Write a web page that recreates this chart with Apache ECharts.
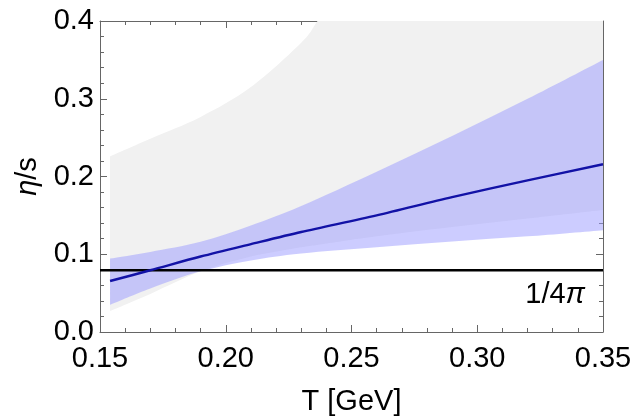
<!DOCTYPE html>
<html>
<head>
<meta charset="utf-8">
<script src="https://cdn.jsdelivr.net/npm/echarts@6/dist/echarts.min.js"></script>
<style>
html,body{margin:0;padding:0;background:#fff;}
#c{width:638px;height:418px;}
</style>
</head>
<body>
<div id="c"></div>
<script>
// ---- data ----
const xTicks = [0.15, 0.20, 0.25, 0.30, 0.35];
const yTicks = [0.0, 0.1, 0.2, 0.3, 0.4];

// gray band: upper edge leaves the frame near T = 0.237 (values above 0.4 are clipped)
const T_gray    = [0.154, 0.17, 0.19, 0.21, 0.23, 0.2365, 0.245, 0.26, 0.29, 0.32, 0.35];
const grayLower = [0.027, 0.049, 0.078, 0.097, 0.109, 0.112, 0.116, 0.123, 0.135, 0.146, 0.157];
const grayUpper = [0.226, 0.2487, 0.2766, 0.315, 0.372, 0.400, 0.44, 0.50, 0.60, 0.70, 0.80];

const T_blue    = [0.154, 0.17, 0.19, 0.21, 0.23, 0.26, 0.29, 0.32, 0.35];
const blueLower = [0.035, 0.056, 0.078, 0.092, 0.101, 0.109, 0.1165, 0.123, 0.131];
const blueUpper = [0.0944, 0.103, 0.116, 0.137, 0.162, 0.206, 0.252, 0.300, 0.350];
const center    = [0.0656, 0.0794, 0.097, 0.113, 0.1286, 0.150, 0.1735, 0.195, 0.2157];

const KSS = 1 / (4 * Math.PI);
const kssX = [0.15, 0.35];
const kssLabel = '1/4';

// ---- build ----
const pairs = (xs, ys) => xs.map((x, i) => [x, ys[i]]);
const rows = (xs, lo, hi) => xs.map((x, i) => [x, lo[i], hi[i]]);

const axisCol = '#666';
const fontFam = 'Liberation Sans, Arial, sans-serif';
const FS = 29;

function xAx(pos, labels) {
  return {
    type: 'value', position: pos, min: 0.15, max: 0.35, interval: 0.05,
    axisLine: {show: true, onZero: false, lineStyle: {color: axisCol, width: 1}},
    axisTick: {show: true, inside: true, length: 7, lineStyle: {color: axisCol}},
    minorTick: {show: true, splitNumber: 5, length: 4, lineStyle: {color: axisCol}},
    splitLine: {show: false}, minorSplitLine: {show: false},
    axisLabel: {show: labels, fontSize: FS, color: '#000', fontFamily: fontFam, margin: 12,
      formatter: v => v.toFixed(2)},
    name: labels ? 'T [GeV]' : '', nameLocation: 'middle', nameGap: 55,
    nameTextStyle: {fontSize: FS, color: '#000', fontFamily: fontFam}
  };
}
function yAx(pos, labels) {
  return {
    type: 'value', position: pos, min: 0, max: 0.4, interval: 0.1,
    axisLine: {show: true, onZero: false, lineStyle: {color: axisCol, width: 1}},
    axisTick: {show: true, inside: true, length: 7, lineStyle: {color: axisCol}},
    minorTick: {show: true, splitNumber: 5, length: 4, lineStyle: {color: axisCol}},
    splitLine: {show: false}, minorSplitLine: {show: false},
    axisLabel: {show: labels, fontSize: FS, color: '#000', fontFamily: fontFam, margin: 6,
      formatter: v => v.toFixed(1)},
    name: labels ? '{i|η}/s' : '', nameLocation: 'middle', nameGap: 58, nameRotate: 90,
    nameTextStyle: {fontSize: FS, color: '#000', fontFamily: fontFam,
      rich: {i: {fontStyle: 'italic', fontSize: FS, fontFamily: fontFam, color: '#000'}}}
  };
}

// smooth path (Catmull-Rom -> cubic Bezier) through pixel points
function splineSeg(pts, startWithMove) {
  let d = startWithMove ? 'M' + pts[0][0] + ' ' + pts[0][1] : 'L' + pts[0][0] + ' ' + pts[0][1];
  const n = pts.length;
  for (let i = 0; i < n - 1; i++) {
    const p0 = pts[Math.max(i - 1, 0)], p1 = pts[i], p2 = pts[i + 1], p3 = pts[Math.min(i + 2, n - 1)];
    const c1 = [p1[0] + (p2[0] - p0[0]) / 6, p1[1] + (p2[1] - p0[1]) / 6];
    const c2 = [p2[0] - (p3[0] - p1[0]) / 6, p2[1] - (p3[1] - p1[1]) / 6];
    d += ' C' + c1[0] + ' ' + c1[1] + ' ' + c2[0] + ' ' + c2[1] + ' ' + p2[0] + ' ' + p2[1];
  }
  return d;
}
function bandSeries(xs, lo, hi, fill, opacity, z) {
  return {
    type: 'custom', coordinateSystem: 'cartesian2d', xAxisIndex: 0, yAxisIndex: 0,
    data: rows(xs, lo, hi), clip: true, z: z, silent: true,
    renderItem: function (params, api) {
      if (params.dataIndex !== 0) return null;
      const up = xs.map((x, i) => api.coord([x, hi[i]]));
      const dn = xs.map((x, i) => api.coord([x, lo[i]])).reverse();
      const d = splineSeg(up, true) + ' ' + splineSeg(dn, false) + ' Z';
      const cs = params.coordSys;
      return {
        type: 'group',
        clipPath: {type: 'rect', shape: {x: cs.x, y: cs.y, width: cs.width, height: cs.height}},
        children: [{type: 'path', shape: {pathData: d}, style: {fill: fill, opacity: opacity, stroke: null}}]
      };
    }
  };
}

const chart = echarts.init(document.getElementById('c'), null, {renderer: 'canvas'});
chart.setOption({
  animation: false,
  grid: {left: 100, right: 35, top: 21, bottom: 86, containLabel: false, outerBoundsMode: 'none'},
  xAxis: [xAx('bottom', true), xAx('top', false)],
  yAxis: [yAx('left', true), yAx('right', false)],
  series: [
    bandSeries(T_gray, grayLower, grayUpper, '#f1f1f1', 1, 1),
    bandSeries(T_blue, blueLower, blueUpper, 'rgb(153,153,255)', 0.5, 2),
    {type: 'line', data: kssX.map(x => [x, KSS]), symbol: 'none',
     lineStyle: {color: '#000', width: 2.5}, z: 3},
    {type: 'line', data: pairs(T_blue, center), symbol: 'none', smooth: 0.3,
     lineStyle: {color: '#1212a6', width: 2.5}, z: 4}
  ]
});

const p = chart.convertToPixel({xAxisIndex: 0, yAxisIndex: 0}, [kssX[1], KSS]);
chart.setOption({
  graphic: [{
    type: 'text', right: 638 - p[0] + 18, top: p[1] + 10, z: 100,
    style: {
      text: '{n|' + kssLabel + '}{i|π}',
      rich: {
        n: {fontSize: FS, fontFamily: fontFam, fill: '#000'},
        i: {fontSize: FS, fontFamily: fontFam, fontStyle: 'italic', fill: '#000'}
      }
    }
  }]
});
</script>
</body>
</html>
